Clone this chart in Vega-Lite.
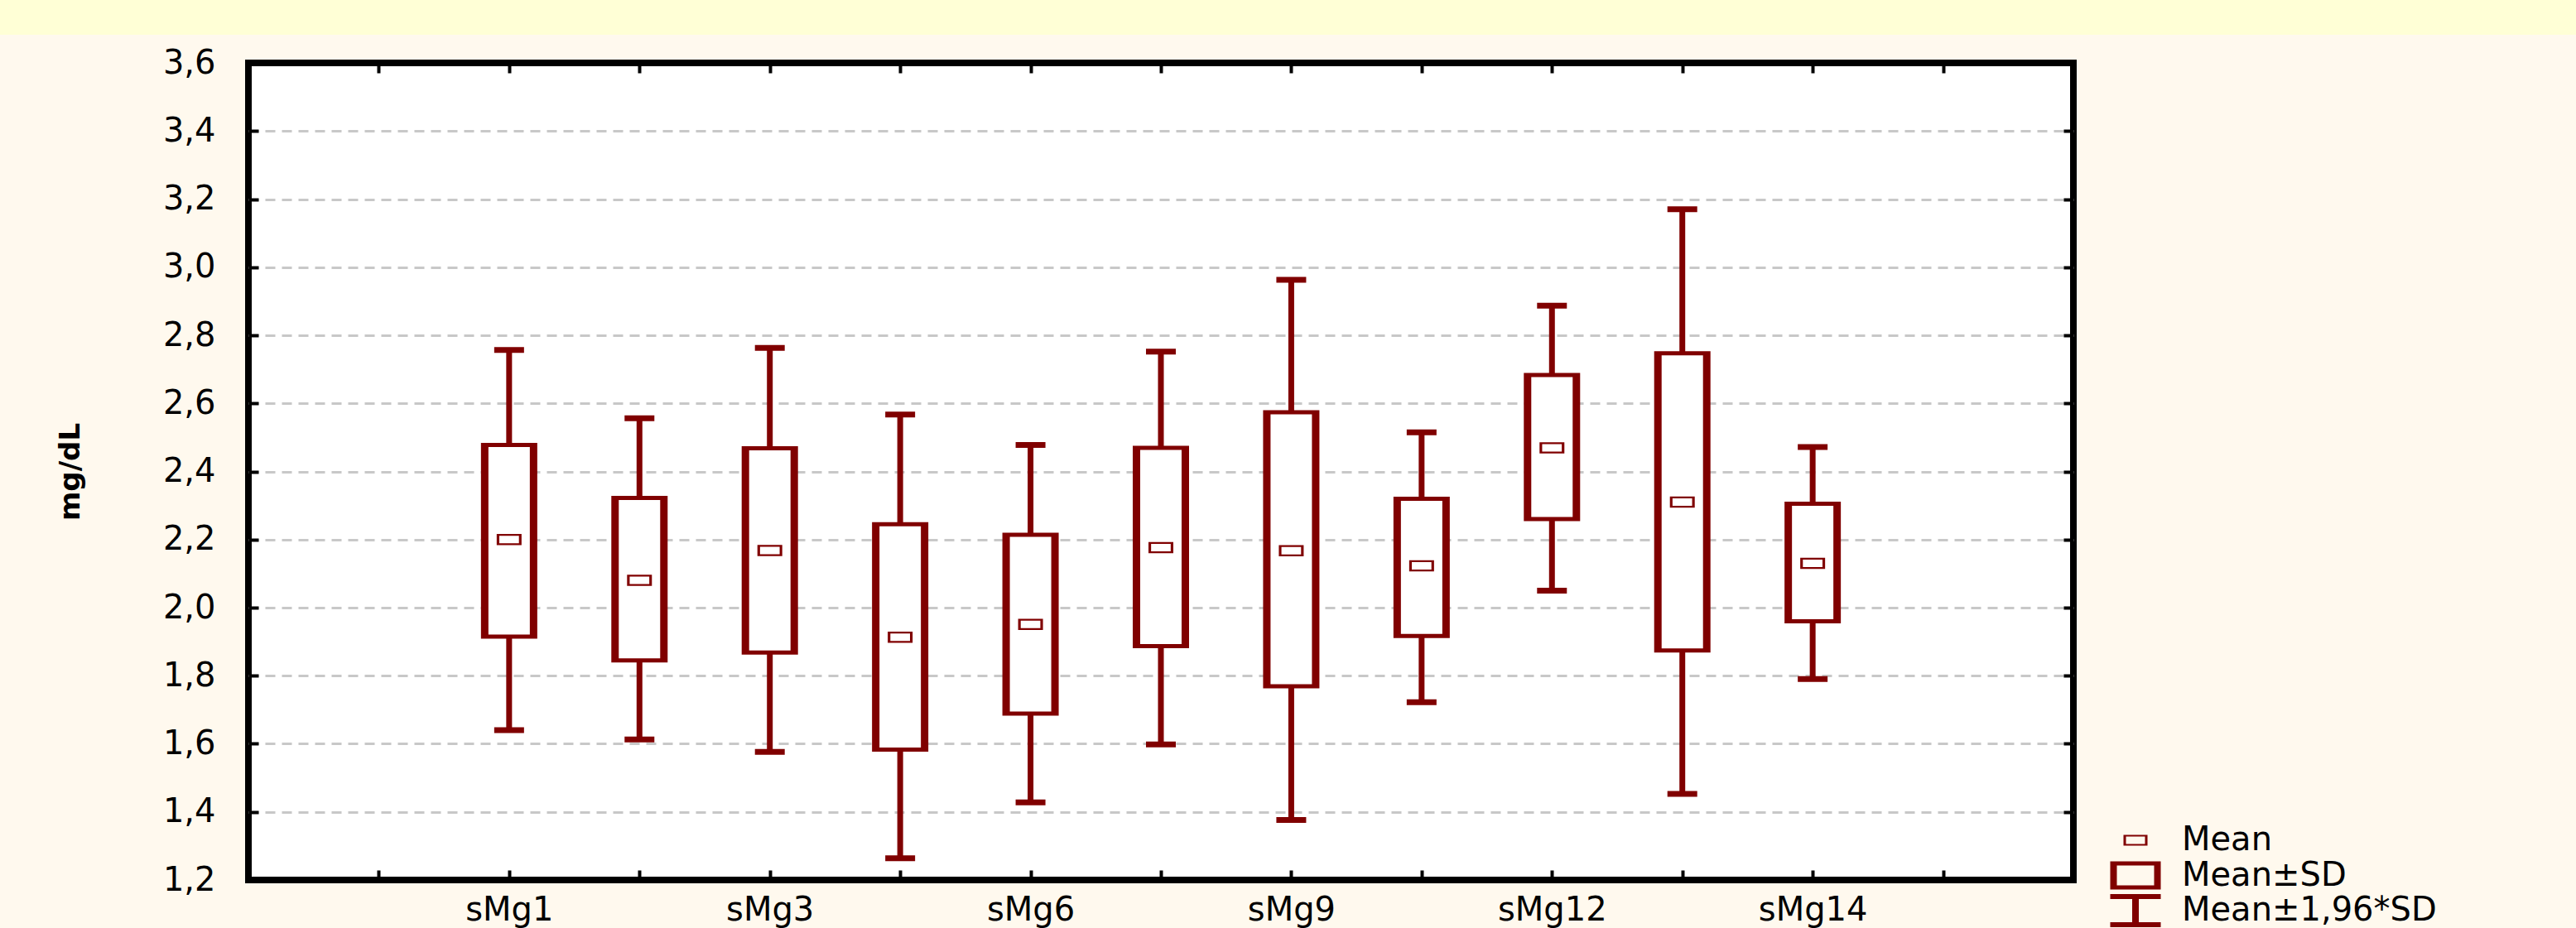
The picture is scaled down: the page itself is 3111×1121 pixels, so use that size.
{
  "$schema": "https://vega.github.io/schema/vega-lite/v6.json",
  "background": "#fff9ee",
  "padding": 0,
  "spacing": 10,
  "config": {
    "view": {"stroke": null},
    "font": "DejaVu Sans"
  },
  "vconcat": [
    {
      "width": 3111,
      "height": 42,
      "view": {"fill": "#ffffd6", "stroke": null},
      "data": {"values": []},
      "mark": "rule",
      "encoding": {}
    },
    {
      "spacing": 0,
      "hconcat": [
        {
          "width": 64,
          "height": 10,
          "view": {"stroke": null},
          "data": {"values": []},
          "mark": "rule",
          "encoding": {}
        },
        {
          "width": 2204,
          "height": 987,
          "view": {"fill": "#ffffff", "stroke": "#000000", "strokeWidth": 8},
          "data": {
            "values": [
              {"var": "sMg1", "mean": 2.2, "sd_lo": 1.915, "sd_hi": 2.478, "ci_lo": 1.64, "ci_hi": 2.757},
              {"var": "sMg2", "mean": 2.08, "sd_lo": 1.845, "sd_hi": 2.322, "ci_lo": 1.613, "ci_hi": 2.556},
              {"var": "sMg3", "mean": 2.168, "sd_lo": 1.868, "sd_hi": 2.468, "ci_lo": 1.576, "ci_hi": 2.763},
              {"var": "sMg4", "mean": 1.913, "sd_lo": 1.583, "sd_hi": 2.245, "ci_lo": 1.264, "ci_hi": 2.567},
              {"var": "sMg6", "mean": 1.951, "sd_lo": 1.689, "sd_hi": 2.214, "ci_lo": 1.428, "ci_hi": 2.478},
              {"var": "sMg7", "mean": 2.176, "sd_lo": 1.887, "sd_hi": 2.469, "ci_lo": 1.598, "ci_hi": 2.752},
              {"var": "sMg9", "mean": 2.167, "sd_lo": 1.769, "sd_hi": 2.574, "ci_lo": 1.376, "ci_hi": 2.963},
              {"var": "sMg10", "mean": 2.123, "sd_lo": 1.917, "sd_hi": 2.32, "ci_lo": 1.722, "ci_hi": 2.515},
              {"var": "sMg12", "mean": 2.469, "sd_lo": 2.26, "sd_hi": 2.683, "ci_lo": 2.05, "ci_hi": 2.887},
              {"var": "sMg13", "mean": 2.31, "sd_lo": 1.874, "sd_hi": 2.747, "ci_lo": 1.453, "ci_hi": 3.17},
              {"var": "sMg14", "mean": 2.13, "sd_lo": 1.96, "sd_hi": 2.305, "ci_lo": 1.79, "ci_hi": 2.472}
            ]
          },
          "resolve": {"axis": {"x": "independent", "y": "independent"}},
          "layer": [
            {
              "mark": {"type": "rule", "color": "#800000", "strokeWidth": 7},
              "encoding": {
                "x": {
                  "field": "var", "type": "nominal",
                  "scale": {"type": "point", "padding": 1, "domain": ["_L", "sMg1", "sMg2", "sMg3", "sMg4", "sMg6", "sMg7", "sMg9", "sMg10", "sMg12", "sMg13", "sMg14", "_R"]},
                  "axis": {
                    "orient": "bottom",
                    "title": null,
                    "labelExpr": "indexof(['sMg1','sMg3','sMg6','sMg9','sMg12','sMg14'], datum.label) >= 0 ? datum.label : ''",
                    "labelAngle": 0,
                    "labelFont": "DejaVu Sans",
                    "labelFontSize": 40,
                    "labelColor": "#000000",
                    "labelPadding": 28,
                    "labelOverlap": false,
                    "domain": false,
                    "ticks": true,
                    "tickSize": -12,
                    "tickWidth": 4,
                    "tickColor": "#000000",
                    "grid": false
                  }
                },
                "y": {
                  "field": "ci_lo", "type": "quantitative",
                  "scale": {"domain": [1.2, 3.6], "nice": false, "zero": false},
                  "axis": {
                    "orient": "left",
                    "values": [1.2, 1.4, 1.6, 1.8, 2.0, 2.2, 2.4, 2.6, 2.8, 3.0, 3.2, 3.4, 3.6],
                    "labelExpr": "replace(format(datum.value, '.1f'), '.', ',')",
                    "labelFont": "DejaVu Sans",
                    "labelFontSize": 40,
                    "labelColor": "#000000",
                    "labelPadding": 52,
                    "labelFlush": false,
                    "labelOverlap": false,
                    "title": "mg/dL",
                    "titleFont": "DejaVu Sans",
                    "titleFontSize": 34,
                    "titleFontWeight": "bold",
                    "titleColor": "#000000",
                    "titlePadding": 94,
                    "domain": false,
                    "ticks": true,
                    "tickSize": -12,
                    "tickWidth": 4,
                    "tickColor": "#000000",
                    "grid": true,
                    "gridColor": "#c8c8c8",
                    "gridWidth": 3,
                    "gridDash": [12, 8],
                    "gridOpacity": {"condition": {"test": "datum.value < 1.3 || datum.value > 3.5", "value": 0}, "value": 1}
                  }
                },
                "y2": {"field": "ci_hi"}
              }
            },
            {
              "mark": {"type": "tick", "color": "#800000", "size": 36, "thickness": 7, "opacity": 1},
              "encoding": {
                "x": {"field": "var", "type": "nominal", "axis": null},
                "y": {"field": "ci_lo", "type": "quantitative", "axis": null}
              }
            },
            {
              "mark": {"type": "tick", "color": "#800000", "size": 36, "thickness": 7, "opacity": 1},
              "encoding": {
                "x": {"field": "var", "type": "nominal", "axis": null},
                "y": {"field": "ci_hi", "type": "quantitative", "axis": null}
              }
            },
            {
              "mark": {"type": "bar", "color": "#800000", "size": 68, "yOffset": 2.5, "y2Offset": -2.5},
              "encoding": {
                "x": {
                  "field": "var", "type": "nominal",
                  "axis": {"orient": "top", "labels": false, "title": null, "domain": false, "ticks": true, "tickSize": -12, "tickWidth": 4, "tickColor": "#000000", "grid": false}
                },
                "y": {
                  "field": "sd_lo", "type": "quantitative",
                  "axis": {"orient": "right", "values": [1.2, 1.4, 1.6, 1.8, 2.0, 2.2, 2.4, 2.6, 2.8, 3.0, 3.2, 3.4, 3.6], "labels": false, "title": null, "domain": false, "ticks": true, "tickSize": -12, "tickWidth": 4, "tickColor": "#000000", "grid": false}
                },
                "y2": {"field": "sd_hi"}
              }
            },
            {
              "mark": {"type": "bar", "color": "#ffffff", "size": 50, "yOffset": -2.5, "y2Offset": 2.5},
              "encoding": {
                "x": {"field": "var", "type": "nominal", "axis": null},
                "y": {"field": "sd_lo", "type": "quantitative", "axis": null},
                "y2": {"field": "sd_hi"}
              }
            },
            {
              "mark": {"type": "point", "filled": true, "color": "#800000", "opacity": 1, "size": 900, "shape": "M-1,-0.45H1V0.45H-1Z M-0.79,-0.3V0.3H0.79V-0.3Z"},
              "encoding": {
                "x": {"field": "var", "type": "nominal", "axis": null},
                "y": {"field": "mean", "type": "quantitative", "axis": null}
              }
            },
            {
              "data": {"values": [{"item": "Mean"}, {"item": "Mean±SD"}, {"item": "Mean±1,96*SD"}]},
              "mark": {"type": "point", "filled": true, "color": "#800000", "opacity": 0},
              "encoding": {
                "shape": {
                  "field": "item", "type": "nominal",
                  "scale": {
                    "domain": ["Mean", "Mean±SD", "Mean±1,96*SD"],
                    "range": [
                      "M-0.725,-0.33H0.725V0.33H-0.725Z M-0.575,-0.23V0.23H0.575V-0.23Z",
                      "M-1.525,-0.85H1.525V0.85H-1.525Z M-1.125,-0.6V0.6H1.125V-0.6Z",
                      "M-1.525,-1H1.525V-0.7H0.2V0.7H1.525V1H-1.525V0.7H-0.2V-0.7H-1.525Z"
                    ]
                  },
                  "legend": {
                    "orient": "none",
                    "legendX": 2559,
                    "legendY": 995,
                    "title": null,
                    "padding": 0,
                    "symbolSize": 1600,
                    "symbolOpacity": 1,
                    "symbolStrokeWidth": 0,
                    "symbolFillColor": "#800000",
                    "labelFont": "DejaVu Sans",
                    "labelFontSize": 40,
                    "labelColor": "#000000",
                    "labelOffset": 36,
                    "labelLimit": 700,
                    "rowPadding": 2.5
                  }
                }
              }
            }
          ]
        }
      ]
    }
  ]
}
